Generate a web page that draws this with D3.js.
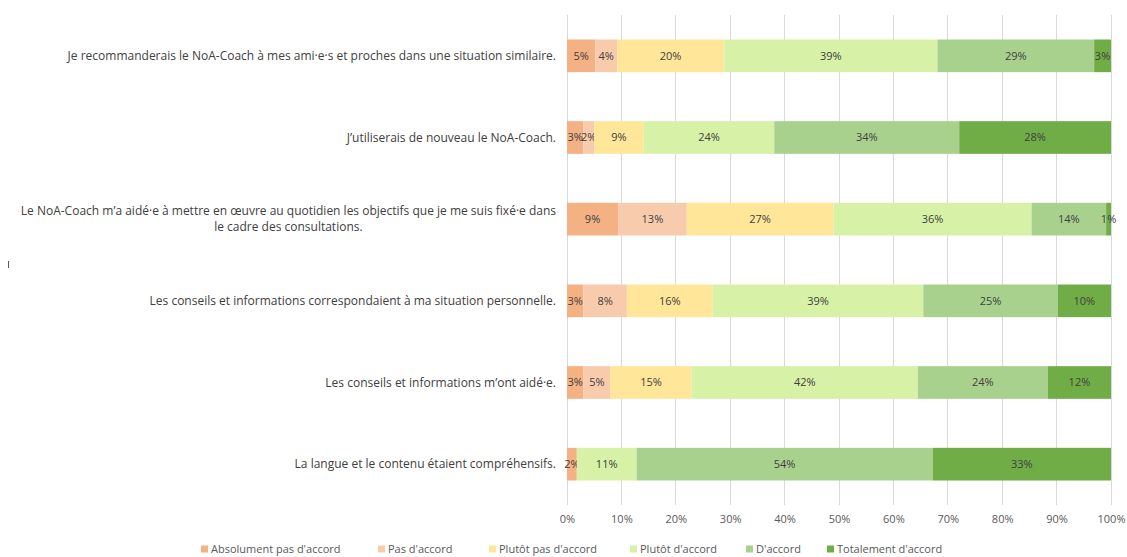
<!DOCTYPE html>
<html>
<head>
<meta charset="utf-8">
<script src="https://cdn.jsdelivr.net/npm/d3@7"></script>
<style>
  body { margin: 0; background: #fff; }
  svg { display: block; font-family: "Open Sans", "Noto Sans", sans-serif; }
</style>
</head>
<body>
<svg id="chart" width="1127" height="557"></svg>
<script>
// statements, top to bottom
const questions = [
  "Je recommanderais le NoA-Coach à mes ami·e·s et proches dans une situation similaire.",
  "J’utiliserais de nouveau le NoA-Coach.",
  "Le NoA-Coach m’a aidé·e à mettre en œuvre au quotidien les objectifs que je me suis fixé·e dans le cadre des consultations.",
  "Les conseils et informations correspondaient à ma situation personnelle.",
  "Les conseils et informations m’ont aidé·e.",
  "La langue et le contenu étaient compréhensifs."
]
const answers = ["Absolument pas d'accord", "Pas d'accord", "Plutôt pas d'accord", "Plutôt d'accord", "D'accord", "Totalement d'accord"]
const colors = ["#F4B183", "#F8CBAD", "#FFE699", "#D7F1A7", "#A9D18E", "#70AD47"]

// shares in %, one array per answer, same order as questions
const absolument = [5.2, 3.0, 9.4, 3.0, 3.0, 1.8]
const pas = [4.0, 2.0, 12.6, 8.0, 5.0, 0]
const plutotPas = [19.7, 9.1, 27.0, 15.8, 14.9, 0]
const plutot = [39.2, 24.0, 36.4, 38.7, 41.6, 11.0]
const daccord = [28.8, 34.0, 13.7, 24.7, 23.9, 54.4]
const totalement = [3.1, 27.9, 0.9, 9.8, 11.6, 32.8]
const ticks = [0, 10, 20, 30, 40, 50, 60, 70, 80, 90, 100]

const series = [absolument, pas, plutotPas, plutot, daccord, totalement]
const rows = questions.map((q, i) => {
  const r = { q: q }
  answers.forEach((a, j) => r[a] = series[j][i])
  return r
})

const svg = d3.select('#chart')
const plotLeft = 567, plotRight = 1111, plotTop = 15, plotBottom = 505

const x = d3.scaleLinear().domain([0, 100]).range([plotLeft, plotRight])
const y = d3.scaleBand().domain(questions).range([plotTop, plotBottom]).paddingInner(0.6).paddingOuter(0.3)

// grid
svg.append('g')
  .selectAll('line')
  .data(ticks)
  .join('line')
  .attr('x1', d => x(d)).attr('x2', d => x(d))
  .attr('y1', plotTop).attr('y2', plotBottom)
  .attr('stroke', '#d9d9d9')
  .attr('stroke-width', 1)
  .attr('shape-rendering', 'crispEdges')

// x axis labels
const xAxis = svg.append('g')
  .attr('transform', `translate(0,${plotBottom})`)
  .call(d3.axisBottom(x).tickValues(ticks).tickFormat(d => d + '%').tickSize(0).tickPadding(10))
xAxis.select('.domain').remove()
xAxis.selectAll('text')
  .attr('fill', '#595959')
  .style('font-size', '11px')
  .style('font-family', '"Open Sans", "Noto Sans", sans-serif')

// stacked bars
const stacked = d3.stack().keys(answers)(rows)

const layers = svg.append('g')
  .selectAll('g')
  .data(stacked)
  .join('g')
  .attr('fill', (d, i) => colors[i])

layers.selectAll('rect')
  .data(d => d)
  .join('rect')
  .attr('x', d => x(d[0]))
  .attr('y', d => y(d.data.q))
  .attr('width', d => x(d[1]) - x(d[0]))
  .attr('height', y.bandwidth())

layers.selectAll('text')
  .data(d => d.filter(s => s[1] - s[0] > 0))
  .join('text')
  .attr('x', d => (x(d[0]) + x(d[1])) / 2)
  .attr('y', d => y(d.data.q) + y.bandwidth() / 2)
  .attr('dy', '0.35em')
  .attr('text-anchor', 'middle')
  .attr('fill', '#404040')
  .style('font-size', '11px')
  .text(d => Math.round(d[1] - d[0]) + '%')

// category labels, wrapped; lines centred, block right-aligned to the axis
function wrapLabel(sel, width) {
  sel.each(function (d) {
    const t = d3.select(this)
    const words = d.split(' ')
    let lines = [], line = []
    const tmp = t.append('tspan')
    words.forEach(w => {
      line.push(w)
      tmp.text(line.join(' '))
      if (tmp.node().getComputedTextLength() > width && line.length > 1) {
        line.pop()
        lines.push(line.join(' '))
        line = [w]
      }
    })
    lines.push(line.join(' '))
    let maxW = 0
    lines.forEach(l => { tmp.text(l); maxW = Math.max(maxW, tmp.node().getComputedTextLength()) })
    tmp.remove()
    const lh = 16
    const edge = plotLeft - 11
    const cx = lines.length > 1 ? edge - maxW / 2 : edge
    t.attr('text-anchor', lines.length > 1 ? 'middle' : 'end')
    lines.forEach((l, i) => {
      t.append('tspan')
        .attr('x', cx)
        .attr('y', y(d) + y.bandwidth() / 2 + (i - (lines.length - 1) / 2) * lh)
        .attr('dy', '0.35em')
        .text(l)
    })
  })
}

svg.append('g')
  .selectAll('text')
  .data(questions)
  .join('text')
  .attr('fill', '#404040')
  .style('font-size', '12px')
  .call(wrapLabel, 548)

// small stray mark at the left edge
svg.append('line')
  .attr('x1', 8.5).attr('x2', 8.5)
  .attr('y1', 261).attr('y2', 268)
  .attr('stroke', '#595959')

// legend
const legendX = [201, 378, 489, 630, 746, 827]
const legend = svg.append('g')
  .selectAll('g')
  .data(answers)
  .join('g')
  .attr('transform', (d, i) => `translate(${legendX[i]},549)`)

legend.append('rect')
  .attr('x', 0).attr('y', -3.5)
  .attr('width', 7).attr('height', 7)
  .attr('fill', (d, i) => colors[i])

legend.append('text')
  .attr('x', 10)
  .attr('dy', '0.35em')
  .attr('fill', '#595959')
  .style('font-size', '11px')
  .text(d => d)
</script>
</body>
</html>
